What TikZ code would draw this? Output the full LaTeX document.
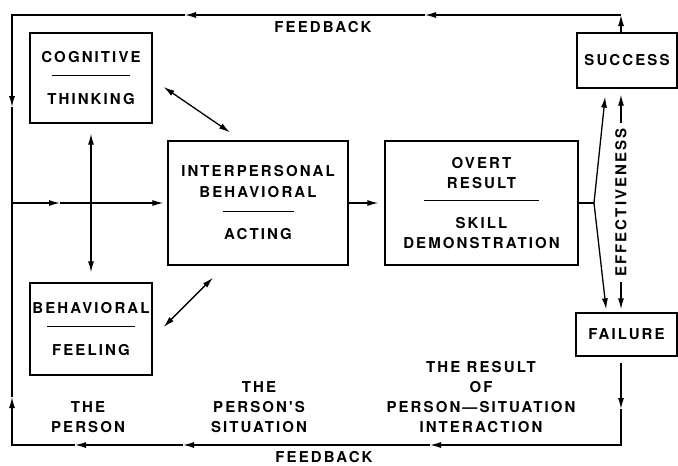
\documentclass[tikz,border=0pt]{standalone}
\usepackage{fontspec}
\newfontfamily\helv[LetterSpace=14]{TeX Gyre Heros}
\usetikzlibrary{arrows.meta}
\newcommand{\divider}[1]{\rule[7pt]{#1}{1.2pt}}

\begin{document}
\begin{tikzpicture}[x=1pt, y=-1pt, line width=1.3pt,
    block/.style ={draw, inner sep=0pt, align=center, font=\helv\bfseries\fontsize{15}{21}\selectfont},
    caption/.style ={inner sep=0pt, align=center, font=\helv\bfseries\fontsize{15}{20}\selectfont},
    tip/.style ={-{Latex[length=11pt,width=6pt]}},
    twoway/.style ={{Latex[length=11pt,width=6pt]}-{Latex[length=11pt,width=6pt]}}]
   \useasboundingbox (0,0) rectangle (678,466);

   \node[block, minimum width=122, minimum height=90] (cog) at (91,78) {COGNITIVE\\\divider{77pt}\\THINKING};
   \node[block, minimum width=122, minimum height=92] (beh) at (91,329) {BEHAVIORAL\\\divider{88pt}\\FEELING};
   \node[block, minimum width=180, minimum height=124] (inter) at (258,203) {INTERPERSONAL\\BEHAVIORAL\\\divider{71pt}\\ACTING};
   \node[block, minimum width=193, minimum height=124, font=\helv\bfseries\fontsize{15}{20}\selectfont] (overt) at (481.5,203) {OVERT\\RESULT\\\divider{115pt}\\SKILL\\DEMONSTRATION};
   \node[block, minimum width=100, minimum height=55] (succ) at (627,60.5) {SUCCESS};
   \node[block, minimum width=101, minimum height=43] (fail) at (626.5,334.5) {FAILURE};
   \node[caption, rotate=90, inner sep=5pt] (eff) at (621,202.5) {EFFECTIVENESS};

   \node[caption] (fbtop) at (323,27) {FEEDBACK};
   \node[caption] (fbbot) at (324,457) {FEEDBACK};
   \node[caption] (person) at (88,417) {THE\\PERSON};
   \node[caption] (situ) at (259,407) {THE\\PERSON'S\\SITUATION};
   \node[caption] (res) at (481,397.5) {THE RESULT\\OF\\PERSON—SITUATION\\INTERACTION};

   % corners of the feedback loop
   \coordinate (tl) at (12,15);
   \coordinate (tr) at (621,15);
   \coordinate (bl) at (12,445);
   \coordinate (br) at (621,445);
   \coordinate (ml) at (12,203);
   \coordinate (split) at (594,203);
   % where the arrow heads sit along it
   \coordinate (t1) at (425,15);
   \coordinate (t2) at (185,15);
   \coordinate (l1) at (12,107);
   \coordinate (l2) at (12,397);
   \coordinate (b1) at (430,445);
   \coordinate (b2) at (183,445);
   \coordinate (b3) at (75,445);
   \coordinate (r1) at (621,409);
   \coordinate (m1) at (60,203);

   % feedback from success
   \draw[tip] (succ.north -| tr) -- (tr);
   \draw[tip] (tr) -- (t1);
   \draw[tip] (t1) -- (t2);
   \draw[tip] (t2) -- (tl) -- (l1);
   \draw (l1) -- (ml);

   % feedback from failure
   \draw[tip, shorten <=6pt] (fail.south -| br) -- (r1);
   \draw[tip] (r1) -- (br) -- (b1);
   \draw[tip] (b1) -- (b2);
   \draw[tip] (b2) -- (b3);
   \draw[tip] (b3) -- (bl) -- (l2);
   \draw (l2) -- (ml);

   \draw[tip] (ml) -- (m1);
   \draw[tip, shorten >=4pt] (m1) -- (m1 -| inter.west);
   \draw[tip, shorten >=6pt] (inter.east) -- (overt.west);

   \draw[twoway, shorten <=10pt, shorten >=10pt] (cog) -- (beh);
   \draw[twoway] ([shift={(11,9)}]cog.east) -- ([shift={(-28,-8)}]inter.north);
   \draw[twoway] ([shift={(11,-2)}]beh.east) -- ([shift={(-45,12)}]inter.south);

   \draw (overt.east) -- (split);
   \draw[tip, shorten >=8pt] (split) -- ([xshift=-21pt]succ.south);
   \draw[tip, shorten >=3pt] (split) -- ([xshift=-20pt]fail.north);

   \draw[tip, shorten >=6pt] (eff.east) -- (eff.east |- succ.south);
   \draw[tip, shorten >=3pt] (eff.west) -- (eff.west |- fail.north);
 \end{tikzpicture}
\end{document}
